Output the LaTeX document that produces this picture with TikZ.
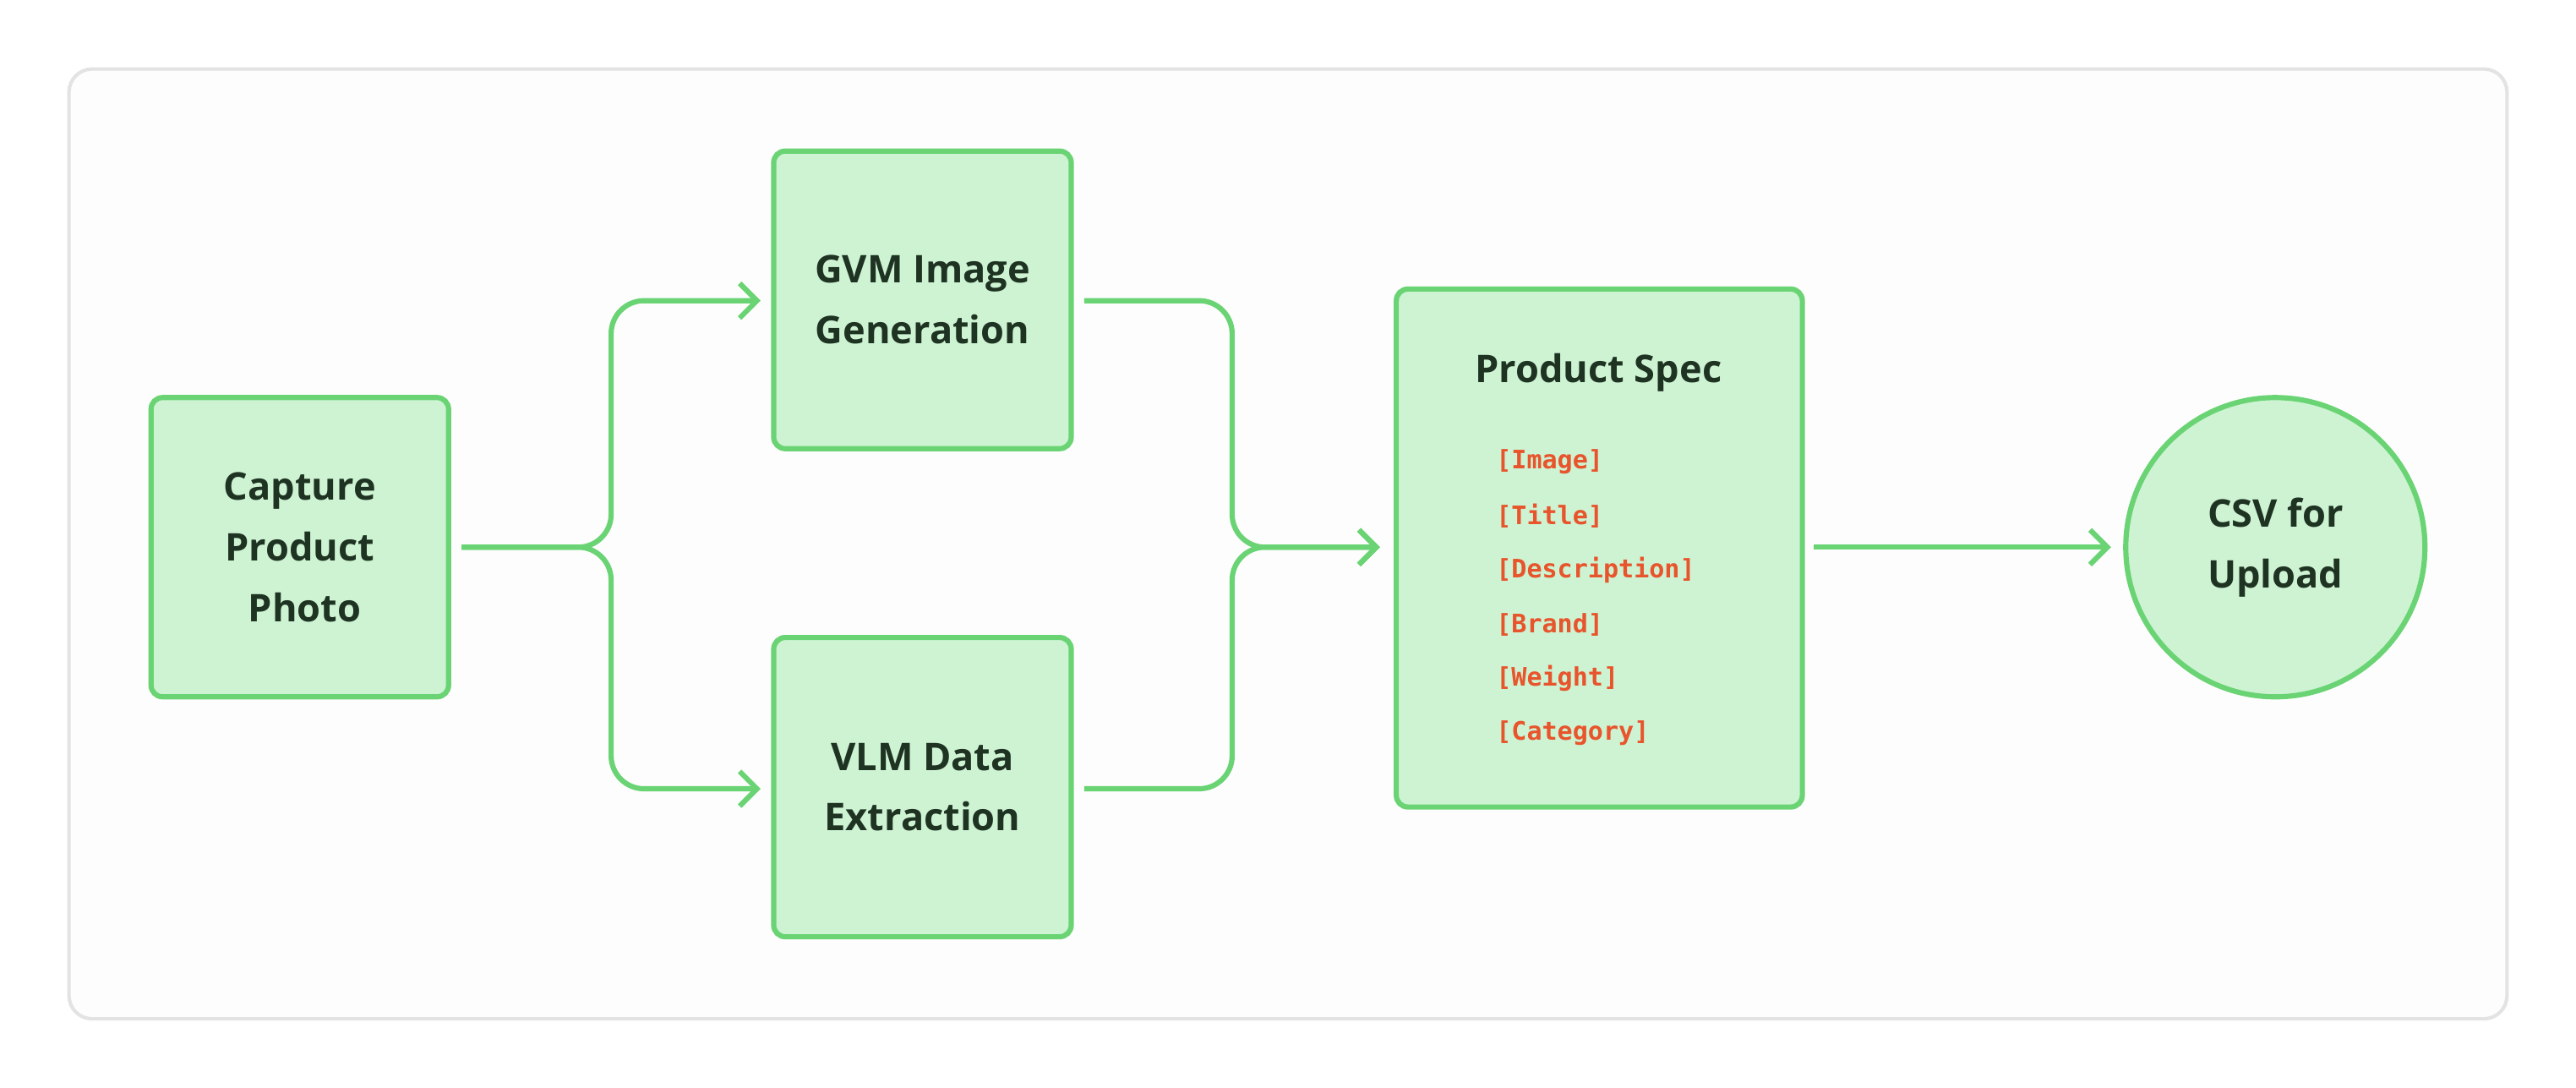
\documentclass[tikz,border=0pt]{standalone}
\usepackage{fontspec}
\setmainfont{Open Sans}
\newfontfamily\mono{DejaVu Sans Mono}
\usetikzlibrary{arrows.meta}
\definecolor{gfill}{HTML}{CDF3D3}
\definecolor{gline}{HTML}{6AD474}
\definecolor{tdark}{HTML}{1F3322}
\definecolor{tred}{HTML}{E8542B}
\begin{document}
\begin{tikzpicture}[x=0.01cm,y=-0.01cm,
  box/.style={draw=gline,fill=gfill,line width=0.9pt,rounded corners=2pt,text=tdark,font=\fontsize{6.6pt}{10.5pt}\selectfont\bfseries,align=center,inner sep=0pt},
  conn/.style={draw=gline,line width=0.9pt,rounded corners=0.2cm},
  arr/.style={-{Straight Barb[length=3pt,width=6pt,line width=0.9pt]}},
  item/.style={text=tred,font=\mono\fontsize{4.4pt}{5pt}\selectfont\bfseries,anchor=west,inner sep=0pt}]
\useasboundingbox (0,0) rectangle (1568,662);
\draw[draw=black!11,fill=black!0.7,line width=0.6pt,rounded corners=4pt] (42,42) rectangle (1526,620);
\node[box,minimum width=1.81cm,minimum height=1.82cm] (cap) at (182.5,333) {Capture\\Product\\\ Photo};
\node[box,minimum width=1.81cm,minimum height=1.81cm] (gvm) at (561.5,182.5) {GVM Image\\Generation};
\node[box,minimum width=1.81cm,minimum height=1.82cm] (vlm) at (561.5,479) {VLM Data\\Extraction};
\node[box,minimum width=2.47cm,minimum height=3.15cm] (ps) at (973.5,333.5) {};
\node[text=tdark,font=\fontsize{6.6pt}{10.5pt}\selectfont\bfseries] (pst) at (973,227) {Product Spec};
\node[item] (i1) at (910,281) {[Image]};
\node[item] (i2) at (910,314) {[Title]};
\node[item] (i3) at (910,347) {[Description]};
\node[item] (i4) at (910,380) {[Brand]};
\node[item] (i5) at (910,413) {[Weight]};
\node[item] (i6) at (910,446) {[Category]};
\node[box,circle,minimum size=1.82cm] (csv) at (1385,333) {CSV for\\Upload};
\coordinate (a0) at (281,333); \coordinate (a1) at (372,333);
\coordinate (g0) at (463,183); \coordinate (v0) at (463,480);
\draw[conn,arr] (a0) -- (a1) -- (372,183) -- (g0);
\draw[conn,arr] (a0) -- (a1) -- (372,480) -- (v0);
\coordinate (g1) at (660,183); \coordinate (v1) at (660,480);
\coordinate (m) at (750,333); \coordinate (p0) at (840,333);
\draw[conn,arr] (g1) -- (750,183) -- (m) -- (p0);
\draw[conn,arr] (v1) -- (750,480) -- (m) -- (p0);
\coordinate (p1) at (1104,333); \coordinate (s0) at (1285,333);
\draw[conn,arr] (p1) -- (s0);
\end{tikzpicture}
\end{document}
